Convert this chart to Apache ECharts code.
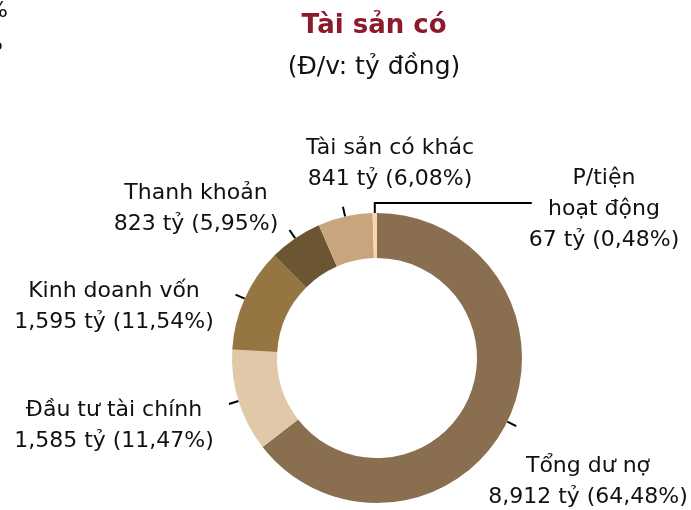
<!DOCTYPE html>
<html>
<head>
<meta charset="utf-8">
<title>Tài sản có</title>
<script src="https://cdn.jsdelivr.net/npm/echarts@6/dist/echarts.min.js"></script>
<style>
    html, body { margin: 0; padding: 0; background: #fff; }
    #main { width: 691px; height: 510px; }
</style>
</head>
<body>
<div id="main"></div>
<script>
// du lieu doc tu hinh
var categories = ['Tổng dư nợ', 'Đầu tư tài chính', 'Kinh doanh vốn', 'Thanh khoản', 'Tài sản có khác', 'P/tiện\nhoạt động'];
var values = [8912, 1585, 1595, 823, 841, 67];
var percentLabels = ['64,48%', '11,47%', '11,54%', '5,95%', '6,08%', '0,48%'];
var colors = ['#8a6e50', '#e0c8a8', '#957542', '#6b5532', '#c9a57e', '#f9d7ae'];

// vi tri nhan (tam cua khoi chu)
var labelPos = [[588, 482], [114, 426], [114, 307], [196, 209], [390, 164], [604, 209]];

var myChart = echarts.init(document.getElementById('main'));

var pieData = [];
for (var i = 0; i < categories.length; i++) {
    pieData.push({ name: categories[i], value: values[i], itemStyle: { color: colors[i] } });
}

function fmt(v) {
    return String(v).replace(/\B(?=(\d{3})+(?!\d))/g, ',');
}

var option = {
    animation: false,
    textStyle: { fontFamily: 'DejaVu Sans' },
    graphic: [
        { type: 'text', x: 374, y: 26, style: { text: 'Tài sản có', fill: '#8b1a2b', font: 'bold 26px "DejaVu Sans"', align: 'center', verticalAlign: 'middle' } },
        { type: 'text', x: 374, y: 67, style: { text: '(Đ/v: tỷ đồng)', fill: '#111', font: '25px "DejaVu Sans"', align: 'center', verticalAlign: 'middle' } },
        // manh chu bi cat o goc trai
        { type: 'text', x: 8, y: 11, style: { text: '%', fill: '#111', font: '22px "DejaVu Sans"', align: 'right', verticalAlign: 'middle' } },
        { type: 'text', x: 3, y: 44, style: { text: '%', fill: '#111', font: '22px "DejaVu Sans"', align: 'right', verticalAlign: 'middle' } }
    ],
    series: [{
        type: 'pie',
        center: [377, 358],
        radius: [100, 145],
        startAngle: 90,
        clockwise: true,
        avoidLabelOverlap: false,
        data: pieData,
        label: {
            show: true,
            position: 'outside',
            color: '#111',
            fontFamily: 'DejaVu Sans',
            fontSize: 22,
            lineHeight: 31,
            align: 'center',
            formatter: function (p) {
                return p.name + '\n' + fmt(p.value) + ' tỷ (' + percentLabels[p.dataIndex] + ')';
            }
        },
        labelLine: {
            show: true,
            length: 10,
            length2: 0,
            lineStyle: { color: '#000', width: 2 }
        },
        labelLayout: function (params) {
            var i = params.dataIndex;
            var pts = params.labelLinePoints;
            var out = {
                x: labelPos[i][0],
                y: labelPos[i][1],
                align: 'center',
                verticalAlign: 'middle'
            };
            if (pts) {
                var p0 = pts[0];
                if (i === categories.length - 1) {
                    out.labelLinePoints = [p0, [p0[0], p0[1] - 10], [p0[0] + 157, p0[1] - 10]];
                } else {
                    out.labelLinePoints = [p0, pts[1], pts[1]];
                }
            }
            return out;
        },
        emphasis: { disabled: true }
    }]
};
myChart.setOption(option);
</script>
</body>
</html>
